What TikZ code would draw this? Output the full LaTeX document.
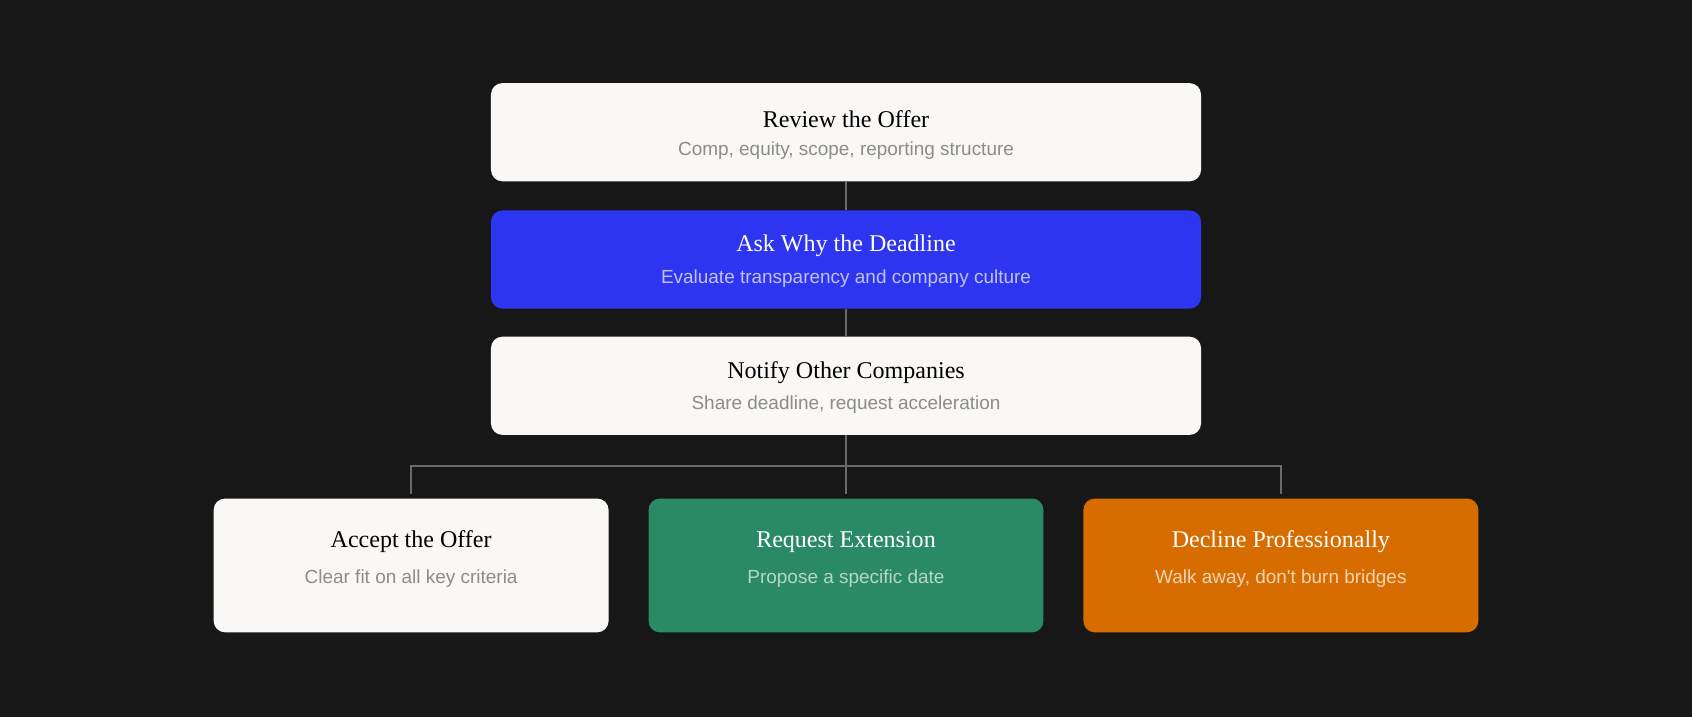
\documentclass[tikz,border=0pt]{standalone}
\usepackage{fontspec}
\setmainfont{Liberation Serif}
\newfontfamily\subf{Liberation Sans}
\definecolor{bg}{HTML}{171717}
\definecolor{wbox}{HTML}{F9F8F6}
\definecolor{bbox}{HTML}{2D35F0}
\definecolor{gbox}{HTML}{2A8A66}
\definecolor{obox}{HTML}{D76D00}
\definecolor{line}{HTML}{6A6A6A}
\tikzset{
 card/.style={rounded corners=9pt, draw=none, fill=#1},
 ttl/.style={font=\fontsize{19}{22}\selectfont, text=#1},
 sub/.style={font=\subf\fontsize{15}{18}\selectfont, text=#1},
 conn/.style={draw=line, line width=1.2pt},
}
\begin{document}
\begin{tikzpicture}[x=0.03cm,y=-0.03cm]
\fill[bg] (0,0) rectangle (1568,664);
\useasboundingbox (0,0) rectangle (1568,664);
% top stack
\fill[card=wbox] (455,77) rectangle (1113,168);
\node[ttl=black] (t1) at (784,110) {Review the Offer};
\node[sub=gray!90] (s1) at (784,140) {Comp, equity, scope, reporting structure};
\fill[card=bbox] (455,195) rectangle (1113,286);
\node[ttl=white] (t2) at (784,228) {Ask Why the Deadline};
\node[sub={bbox!30!white}] (s2) at (784,258) {Evaluate transparency and company culture};
\fill[card=wbox] (455,312) rectangle (1113,403);
\node[ttl=black] (t3) at (784,345) {Notify Other Companies};
\node[sub=gray!90] (s3) at (784,375) {Share deadline, request acceleration};
% bottom
\fill[card=wbox] (198,462) rectangle (564,586);
\node[ttl=black] (t4) at (381,502) {Accept the Offer};
\node[sub=gray!90] (s4) at (381,536) {Clear fit on all key criteria};
\fill[card=gbox] (601,462) rectangle (967,586);
\node[ttl=white] (t5) at (784,502) {Request Extension};
\node[sub={gbox!35!white}] (s5) at (784,536) {Propose a specific date};
\fill[card=obox] (1004,462) rectangle (1370,586);
\node[ttl=white] (t6) at (1187,502) {Decline Professionally};
\node[sub={obox!30!white}] (s6) at (1187,536) {Walk away, don't burn bridges};
% connectors
\coordinate (a1) at (784,168); \coordinate (a2) at (784,195);
\coordinate (b1) at (784,286); \coordinate (b2) at (784,312);
\coordinate (c1) at (784,403); \coordinate (c2) at (784,458);
\coordinate (l1) at (381,432); \coordinate (l2) at (381,458);
\coordinate (r1) at (1187,432); \coordinate (r2) at (1187,458);
\draw[conn] (a1) -- (a2);
\draw[conn] (b1) -- (b2);
\draw[conn] (c1) -- (c2);
\draw[conn] (l2) -- (l1) -- (r1) -- (r2);
\end{tikzpicture}
\end{document}
